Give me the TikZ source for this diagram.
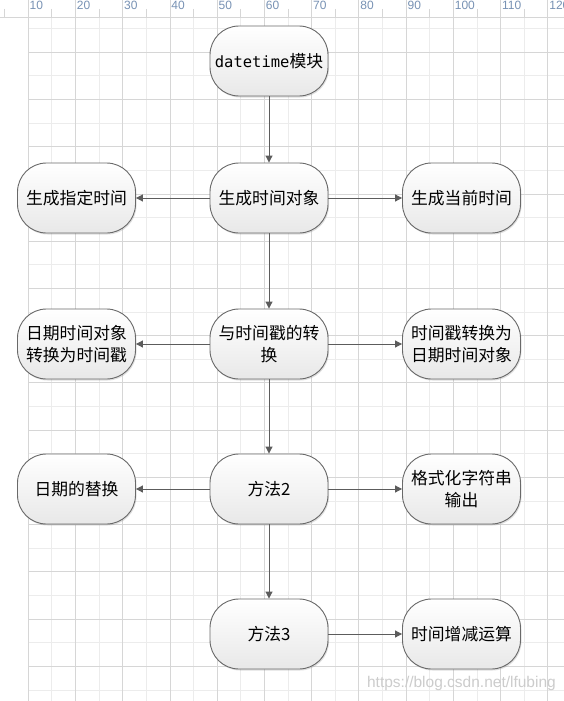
\documentclass[tikz,border=0pt]{standalone}
\usepackage{fontspec}
\setmainfont{Noto Sans CJK SC}
\newfontfamily\rulerfont{Liberation Sans}
\newfontfamily\codefont{DejaVu Sans Mono}
\usetikzlibrary{arrows.meta,shadows}

\definecolor{gridmajor}{RGB}{214,214,214}
\definecolor{gridminor}{RGB}{236,236,236}
\definecolor{rulernum}{RGB}{120,146,180}
\definecolor{boxline}{RGB}{105,105,105}
\definecolor{arrowgray}{RGB}{92,92,92}

\tikzset{
  stepbox/.style={draw=boxline, line width=0.9pt, rounded corners=29pt,
    minimum width=118pt, minimum height=70pt, inner sep=2pt,
    top color=white, bottom color=black!9, align=center,
    drop shadow={opacity=0.25, shadow xshift=1pt, shadow yshift=-1.5pt},
    font=\fontsize{16.8}{22}\selectfont},
  link/.style={-{Triangle[length=7pt,width=7pt]}, draw=arrowgray, line width=1pt}
}

\begin{document}
\begin{tikzpicture}[x=1pt, y=-1pt]
  \useasboundingbox (0,0) rectangle (564,701);
  \clip (0,0) rectangle (564,701);
  \fill[white] (0,0) rectangle (564,701);

  % grid
  \foreach \i in {0,...,11}
    \draw[gridminor] (51.62+47.24*\i,17) -- (51.62+47.24*\i,701);
  \foreach \j in {0,...,14}
    \draw[gridminor] (28,28.4+47.24*\j) -- (564,28.4+47.24*\j);
  \foreach \i in {0,...,11}
    \draw[gridmajor] (28+47.24*\i,17) -- (28+47.24*\i,701);
  \foreach \j in {0,...,13}
    \draw[gridmajor] (28,52+47.24*\j) -- (564,52+47.24*\j);

  % ruler
  \draw[gridmajor] (0,17) -- (564,17);
  \foreach \i in {0,...,12}
    \draw[gridmajor] (4.4+47.24*\i,9) -- (4.4+47.24*\i,17);
  \foreach \i [evaluate=\i as \n using int(10*(\i+1))] in {0,...,11} {
    \draw[gridmajor] (28+47.24*\i,0) -- (28+47.24*\i,17);
    \node[anchor=north west, inner sep=0pt, text=rulernum,
      font=\rulerfont\fontsize{12}{12}\selectfont] at (29.5+47.24*\i,1) {\n};
  }

  % boxes
  \node[stepbox] (dtmod) at (269,61) {{\codefont\fontsize{15.5}{21}\selectfont datetime}模块};
  \node[stepbox] (newobj) at (269,198) {生成时间对象};
  \node[stepbox] (given) at (76.5,198) {生成指定时间};
  \node[stepbox] (now) at (461.5,198) {生成当前时间};
  \node[stepbox] (stamp) at (269,344) {与时间戳的转\\换};
  \node[stepbox] (tostamp) at (76.5,344) {日期时间对象\\转换为时间戳};
  \node[stepbox] (fromstamp) at (461.5,344) {时间戳转换为\\日期时间对象};
  \node[stepbox] (way2) at (269,489) {方法2};
  \node[stepbox] (replace) at (76.5,489) {日期的替换};
  \node[stepbox] (fmtout) at (461.5,489) {格式化字符串\\输出};
  \node[stepbox] (way3) at (269,634) {方法3};
  \node[stepbox] (delta) at (461.5,634) {时间增减运算};

  % links
  \draw[link] (dtmod) -- (newobj);
  \draw[link] (newobj) -- (given);
  \draw[link] (newobj) -- (now);
  \draw[link] (newobj) -- (stamp);
  \draw[link] (stamp) -- (tostamp);
  \draw[link] (stamp) -- (fromstamp);
  \draw[link] (stamp) -- (way2);
  \draw[link] (way2) -- (replace);
  \draw[link] (way2) -- (fmtout);
  \draw[link] (way2) -- (way3);
  \draw[link] (way3) -- (delta);

  \node[anchor=east, inner sep=0pt, text=black!20,
    font=\rulerfont\fontsize{15.5}{16}\selectfont] (mark) at (556,683)
    {https://blog.csdn.net/lfubing};
\end{tikzpicture}
\end{document}
